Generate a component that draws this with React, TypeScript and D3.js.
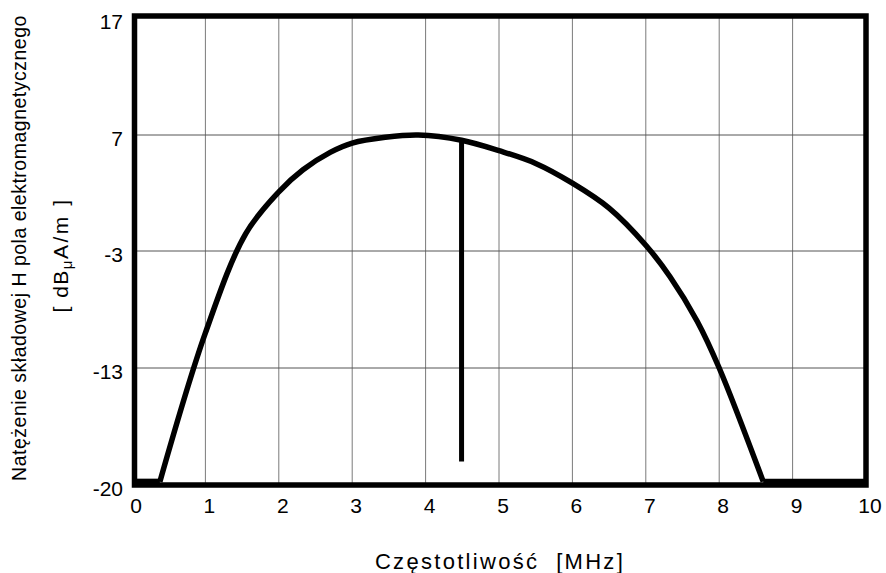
import React from 'react';
import * as d3 from 'd3';

// frequency [MHz] and field level [dBμA/m]
const freqs = [0.38, 1.0, 1.55, 2.0, 2.33, 2.7, 3.0, 3.45, 3.9, 4.49, 5.0, 5.5, 6.0, 6.5, 7.0, 7.33, 7.7, 8.0, 8.6];
const levels = [-19.8, -10.0, -1.5, 2.1, 4.0, 5.5, 6.3, 6.8, 7.0, 6.55, 5.65, 4.55, 2.85, 0.7, -2.5, -5.2, -9.0, -13.0, -19.8];

// flat floor outside the band
const floorFreqs = [0, 0.38, 8.6, 10];
const floorLevels = [-19.8, -19.8, -19.8, -19.8];

// vertical marker
const markerFreq = 4.49;
const markerLevels = [6.55, -18.6];

const xTicks = [0, 1, 2, 3, 4, 5, 6, 7, 8, 9, 10];
const yTicks = [-20, -13, -3, 7, 17];

const FONT = "'Liberation Sans', Arial, sans-serif";

const App = () => {
    const ref = React.useRef<SVGSVGElement>(null);

    React.useEffect(() => {
        const svg = d3.select(ref.current);
        svg.selectAll('*').remove();

        const x = d3.scaleLinear().domain([0, 10]).range([132, 866]);
        // the axis is drawn with equal spacing between its uneven ticks
        const y = d3.scaleLinear().domain(yTicks).range([485, 368, 251, 135, 18]);

        const g = svg.append('g');

        // grid
        g.selectAll('line.vgrid')
            .data(xTicks.slice(1, -1))
            .enter().append('line')
            .attr('x1', d => x(d)).attr('x2', d => x(d))
            .attr('y1', y(17)).attr('y2', y(-20))
            .attr('stroke', '#7a7a7a').attr('stroke-width', 1);

        g.selectAll('line.hgrid')
            .data(yTicks.slice(1, -1))
            .enter().append('line')
            .attr('x1', x(0)).attr('x2', x(10))
            .attr('y1', d => y(d)).attr('y2', d => y(d))
            .attr('stroke', '#555').attr('stroke-width', 1);

        // frame
        g.append('rect')
            .attr('x', x(0) + 2.5).attr('y', y(17) - 2)
            .attr('width', x(10) - x(0) - 2.5).attr('height', y(-20) - y(17) + 2)
            .attr('fill', 'none').attr('stroke', '#000').attr('stroke-width', 5.5);

        const line = d3.line<number>()
            .x(d => x(d))
            .y((d, i) => y(levels[i]))
            .curve(d3.curveCatmullRom.alpha(0.5));

        g.append('path')
            .attr('d', line(freqs))
            .attr('fill', 'none').attr('stroke', '#000').attr('stroke-width', 5.5)
            .attr('stroke-linejoin', 'round');

        const floor = d3.line<number>().x(d => x(d)).y((d, i) => y(floorLevels[i]));
        [[0, 2], [2, 4]].forEach(([a, b]) => {
            g.append('path')
                .attr('d', floor(floorFreqs.slice(a, b)))
                .attr('stroke', '#000').attr('stroke-width', 6).attr('fill', 'none');
        });

        g.append('line')
            .attr('x1', x(markerFreq)).attr('x2', x(markerFreq))
            .attr('y1', y(markerLevels[0])).attr('y2', y(markerLevels[1]))
            .attr('stroke', '#000').attr('stroke-width', 5);

        // tick labels
        g.selectAll('text.xt')
            .data(xTicks)
            .enter().append('text')
            .attr('x', d => x(d) + 4).attr('y', 513)
            .attr('text-anchor', 'middle')
            .attr('font-family', FONT).attr('font-size', 21)
            .text(d => d);

        g.selectAll('text.yt')
            .data(yTicks)
            .enter().append('text')
            .attr('x', 123).attr('y', d => y(d) + 11)
            .attr('text-anchor', 'end')
            .attr('font-family', FONT).attr('font-size', 21)
            .text(d => d);

        // axis titles
        g.append('text')
            .attr('x', 500).attr('y', 569)
            .attr('text-anchor', 'middle')
            .attr('font-family', FONT).attr('font-size', 22)
            .attr('letter-spacing', 2.3)
            .style('white-space', 'pre')
            .text('Częstotliwość  [MHz]');

        g.append('text')
            .attr('transform', 'translate(26,248) rotate(-90)')
            .attr('text-anchor', 'middle')
            .attr('font-family', FONT).attr('font-size', 19.5)
            .attr('letter-spacing', 0.5)
            .text('Natężenie składowej H pola elektromagnetycznego');

        const unit = g.append('text')
            .attr('transform', 'translate(68,255) rotate(-90)')
            .attr('text-anchor', 'middle')
            .attr('font-family', FONT).attr('font-size', 21)
            .attr('letter-spacing', 1.5)
            .style('white-space', 'pre');
        unit.append('tspan').text('[ dB');
        unit.append('tspan').attr('font-size', 15).attr('dy', 4).text('μ');
        unit.append('tspan').attr('dy', -4).attr('letter-spacing', 2.5).text('A/m ]');
    }, []);

    return (
        <svg ref={ref} width={886} height={573}
            style={{ position: 'absolute', left: 0, top: 0, background: '#fff' }} />
    );
};

export default App;
